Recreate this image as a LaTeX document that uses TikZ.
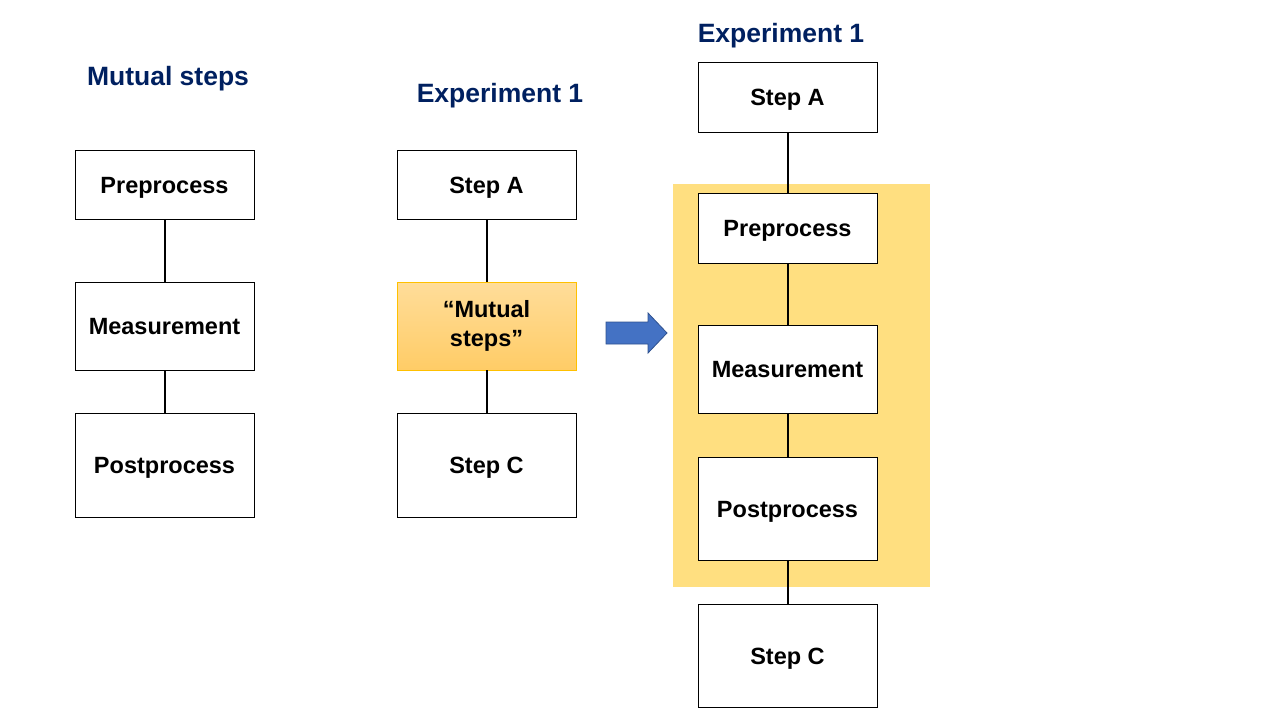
\documentclass[tikz,border=0pt]{standalone}
\usepackage{fontspec}
\setmainfont{Liberation Sans}
\definecolor{navy}{HTML}{002060}
\definecolor{bgyellow}{HTML}{FFDF80}
\definecolor{gtop}{HTML}{FFDD9A}
\definecolor{gbot}{HTML}{FFCC66}
\definecolor{gold}{HTML}{FFC000}
\definecolor{arrowblue}{HTML}{4472C4}
\definecolor{arrowedge}{HTML}{2F528F}
\begin{document}
\begin{tikzpicture}[x=1pt,y=-1pt,
  basebox/.style={draw=black,line width=1pt,fill=white,minimum width=179pt,inner sep=0pt,
     font=\fontsize{23.5}{29}\selectfont\bfseries,align=center},
  stepbox/.style={basebox,text height=17pt,text depth=0pt},
  ttl/.style={text=navy,font=\fontsize{26.5}{30}\selectfont\bfseries,text height=19pt,text depth=0pt},
  conn/.style={draw=black,line width=2pt}]
\useasboundingbox (0,0) rectangle (1280,720);
% titles
\node[ttl] (t1) at (168,76) {Mutual steps};
\node[ttl] (t2) at (500,93) {Experiment 1};
\node[ttl] (t3) at (781,33) {Experiment 1};
% left column
\node[stepbox,minimum height=69pt] (lpre) at (164.5,184.5) {Preprocess};
\node[stepbox,minimum height=88pt] (lmea) at (164.5,326) {Measurement};
\node[stepbox,minimum height=104pt] (lpost) at (164.5,465) {Postprocess};
\draw[conn] (lpre) -- (lmea);
\draw[conn] (lmea) -- (lpost);
% middle column
\node[stepbox,minimum height=69pt] (ma) at (486.5,184.5) {Step A};
\node[basebox,draw=gold,line width=0.8pt,top color=gtop,bottom color=gbot,minimum height=88pt]
  (mm) at (486.5,326) {``Mutual\\steps''};
\node[stepbox,minimum height=104pt] (mc) at (486.5,465) {Step C};
\draw[conn] (ma) -- (mm);
\draw[conn] (mm) -- (mc);
% arrow
\coordinate (arrtip) at (667,333);
\filldraw[fill=arrowblue,draw=arrowedge,line width=0.8pt]
  (606,322) -- (648,322) -- (648,313) -- (arrtip) -- (648,353) -- (648,344) -- (606,344) -- cycle;
% right column
\fill[bgyellow] (673,184) rectangle (930,587);
\node[stepbox,minimum height=70pt] (ra) at (787.5,97) {Step A};
\node[stepbox,minimum height=70pt] (rpre) at (787.5,228) {Preprocess};
\node[stepbox,minimum height=88pt] (rmea) at (787.5,369) {Measurement};
\node[stepbox,minimum height=103pt] (rpost) at (787.5,508.5) {Postprocess};
\node[stepbox,minimum height=103pt] (rc) at (787.5,655.5) {Step C};
\draw[conn] (ra) -- (rpre);
\draw[conn] (rpre) -- (rmea);
\draw[conn] (rmea) -- (rpost);
\draw[conn] (rpost) -- (rc);
\end{tikzpicture}
\end{document}
